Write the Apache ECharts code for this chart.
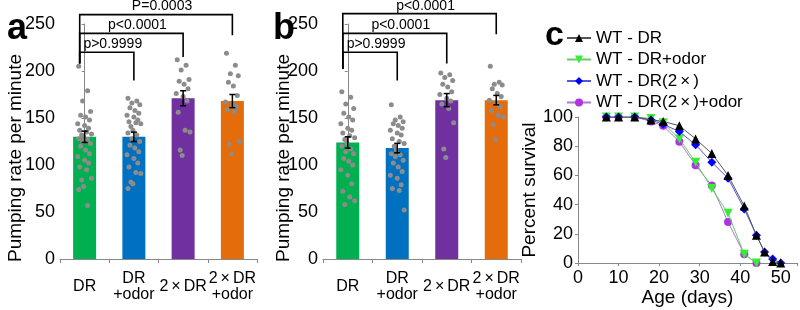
<!DOCTYPE html>
<html>
<head>
<meta charset="utf-8">
<script src="https://cdn.jsdelivr.net/npm/echarts@6/dist/echarts.min.js"></script>
<style>
html, body { margin: 0; padding: 0; background: #fff; }
#main { width: 800px; height: 310px; }
</style>
</head>
<body>
<div id="main"></div>
<script>
var categories = ['DR', 'DR\n+odor', '2×DR', '2×DR\n+odor'];
var barColors = ['#00b050', '#0070c0', '#7030a0', '#e46c0a'];
var yTicksBar = [0, 50, 100, 150, 200, 250];

// panel a
var meanA = [130, 130, 171, 168];
var semA = [6, 5, 8, 7];
var a_DR = [205, 179, 168, 157, 153, 151, 148, 144, 142, 139, 137, 135, 133, 132, 130, 128, 127, 125, 123, 120, 116, 112, 109, 105, 102, 98, 95, 86, 84, 77, 74, 57];
var a_DRodor = [171, 168, 166, 164, 161, 158, 155, 153, 151, 148, 146, 145, 144, 141, 137, 134, 132, 128, 125, 121, 118, 114, 111, 107, 102, 98, 92, 91, 82, 80, 75];
var a_2DR = [212, 206, 201, 191, 189, 186, 181, 176, 173, 168, 156, 137, 135, 116, 110];
var a_2DRodor = [219, 206, 197, 195, 188, 184, 174, 167, 165, 162, 159, 157, 125, 122, 112];
var pLabelsA = ['p>0.9999', 'p<0.0001', 'P=0.0003'];
var pTargetsA = [1, 2, 3];
var pLevelsA = [220, 240, 260];
var pEndsA = [190, 215, 238];
var pStartA = 208;

// panel b
var meanB = [124, 118, 169, 169];
var semB = [6, 5, 7, 5];
var b_DR = [178, 172, 165, 160, 155, 151, 148, 144, 139, 137, 134, 131, 129, 127, 123, 120, 117, 114, 112, 107, 104, 100, 95, 89, 80, 72, 66, 62, 58];
var b_DRodor = [164, 151, 148, 146, 144, 142, 139, 137, 134, 132, 128, 125, 123, 120, 116, 112, 111, 109, 105, 102, 98, 93, 89, 86, 79, 75, 73, 52];
var b_2DR = [198, 196, 193, 190, 186, 183, 178, 175, 171, 168, 165, 160, 145, 117, 108];
var b_2DRodor = [205, 188, 186, 185, 181, 176, 173, 169, 166, 162, 158, 153, 151, 143, 127];
var pLabelsB = ['p>0.9999', 'p<0.0001', 'p<0.0001'];
var pTargetsB = [1, 2, 3];
var pLevelsB = [220, 240, 261];
var pEndsB = [190, 208, 239];
var pStartB = 202;

// panel c
var ageDays = [7, 10, 14, 18, 21, 25, 29, 33, 37, 41, 44, 46, 48, 50];
var survDR = [100, 100, 100, 98, 97, 94, 85, 75, 60, 39, 19, 7.5, 1, 0];
var survDRodor = [100, 100, 100, 99, 96, 85, 69, 51, 34, 6, 0];
var survDR2x = [100, 100, 100, 98, 95, 90, 81, 69, 58, 37, 19, 7.5, 2.7, 0];
var survDR2xOdor = [100, 100, 100, 97, 94, 83, 67, 53, 28, 6, 0];

var FONT = '"Liberation Sans", Arial, sans-serif';
var jitter = [-0.12, 0.06, -0.04, 0.12, -0.08, 0.02, 0.1, -0.14, 0.0, 0.08, -0.1, 0.04, 0.14, -0.06, -0.02];
var legOff = -0.1;

function dotData(groups) {
    var out = [];
    groups.forEach(function (vals, g) {
        vals.forEach(function (v, i) {
            out.push([g + jitter[i % jitter.length], v]);
        });
    });
    return out;
}

function errData(mean, sem) {
    return mean.map(function (m, i) { return [i, m, sem[i]]; });
}

function renderErr(params, api) {
    var x = api.value(0), m = api.value(1), e = api.value(2);
    var top = api.coord([x, m + e]);
    var bot = api.coord([x, m - e]);
    var st = { stroke: '#000', lineWidth: 1.5 };
    var hw = 3;
    return {
        type: 'group',
        children: [
            { type: 'line', shape: { x1: top[0], y1: top[1], x2: bot[0], y2: bot[1] }, style: st },
            { type: 'line', shape: { x1: top[0] - hw, y1: top[1], x2: top[0] + hw, y2: top[1] }, style: st },
            { type: 'line', shape: { x1: bot[0] - hw, y1: bot[1], x2: bot[0] + hw, y2: bot[1] }, style: st }
        ]
    };
}

function bracketData(targets, levels, ends, start) {
    return targets.map(function (t, i) { return [t, levels[i], ends[i], start, i]; });
}

function makeBracketRender(labels) {
    return function (params, api) {
        var t = api.value(0), lv = api.value(1), en = api.value(2), st = api.value(3), idx = api.value(4);
        var p0 = api.coord([legOff, st]);
        var p1 = api.coord([legOff, lv]);
        var p2 = api.coord([t, lv]);
        var p3 = api.coord([t, en]);
        return {
            type: 'group',
            children: [
                { type: 'polyline', shape: { points: [p0, p1, p2, p3] }, style: { stroke: '#000', lineWidth: 1.6, fill: null } },
                { type: 'text', x: (p1[0] + p2[0]) / 2 + 6, y: p1[1] - 1,
                  style: { text: labels[idx], font: '14px ' + FONT, fill: '#000', align: 'center', verticalAlign: 'bottom' } }
            ]
        };
    };
}

function catAxis(gi) {
    return {
        type: 'category', gridIndex: gi, data: categories,
        axisLine: { lineStyle: { color: '#888', width: 1 } },
        axisTick: { show: true, length: 4, lineStyle: { color: '#888' } },
        axisLabel: {
            interval: 0, color: '#000', fontSize: 16, fontFamily: FONT, lineHeight: 16,
            margin: 28, verticalAlign: 'middle',
            formatter: function (v) { return v.replace(/×/g, '{x|×}'); },
            rich: { x: { fontSize: 16, fontFamily: FONT, padding: [0, 3, 0, 3], lineHeight: 16 } }
        }
    };
}

function hiddenX(gi) {
    return { type: 'value', gridIndex: gi, min: -0.5, max: 3.5, show: false };
}

function barY(gi) {
    return {
        type: 'value', gridIndex: gi, min: yTicksBar[0], max: yTicksBar[yTicksBar.length - 1], interval: 50,
        axisLine: { show: true, lineStyle: { color: '#888', width: 1 } },
        axisTick: { show: true, length: 3, lineStyle: { color: '#888' } },
        axisLabel: { color: '#000', fontSize: 18, fontFamily: FONT, margin: 5 },
        splitLine: { show: false }
    };
}

function barSeries(xi, yi, mean) {
    return {
        type: 'bar', xAxisIndex: xi, yAxisIndex: yi, barWidth: 23, z: 2,
        data: mean.map(function (m, i) { return { value: m, itemStyle: { color: barColors[i] } }; })
    };
}

function dotSeries(xi, yi, groups) {
    return {
        type: 'scatter', xAxisIndex: xi, yAxisIndex: yi, symbolSize: 5, z: 3,
        itemStyle: { color: '#8c8c8c', opacity: 1 },
        data: dotData(groups)
    };
}

function survData(vals) {
    return vals.map(function (v, i) { return [ageDays[i], v]; });
}

function sideTitle(x, y, text) {
    return {
        type: 'text', x: x, y: y, rotation: Math.PI / 2,
        style: { text: text, font: '19px ' + FONT, fill: '#000', align: 'center', verticalAlign: 'middle' }
    };
}

var chart = echarts.init(document.getElementById('main'), null, { renderer: 'canvas' });

var option = {
    animation: false,
    backgroundColor: '#fff',
    textStyle: { fontFamily: FONT },
    title: [
        { text: 'a', left: 2, top: 6, textStyle: { fontSize: 36, fontWeight: 'bold', fontFamily: FONT, color: '#000' } },
        { text: 'b', left: 268, top: 6, textStyle: { fontSize: 36, fontWeight: 'bold', fontFamily: FONT, color: '#000' } },
        { text: 'c', left: 540, top: 14, textStyle: { fontSize: 34, fontWeight: 'bold', fontFamily: FONT, color: '#000' } }
    ],
    graphic: [
        sideTitle(16, 158, 'Pumping rate per minute'),
        sideTitle(284, 158, 'Pumping rate per minute')
    ],
    legend: {
        orient: 'vertical', left: 561, top: 24, itemWidth: 24, itemHeight: 10, itemGap: 3.5,
        data: ['WT - DR', 'WT - DR+odor', 'WT - DR(2×)', 'WT - DR(2×)+odor'],
        formatter: function (n) { return n.replace(/×/g, '{x|×}'); },
        textStyle: {
            fontSize: 17, fontFamily: FONT, color: '#000', lineHeight: 18,
            rich: { x: { fontSize: 17, fontFamily: FONT, padding: [0, 3, 0, 3], lineHeight: 18 } }
        }
    },
    grid: [
        { left: 60, top: 24, width: 197, height: 235 },
        { left: 323, top: 24, width: 198, height: 235 },
        { left: 578, top: 117, width: 222, height: 146 }
    ],
    xAxis: [
        catAxis(0), hiddenX(0), catAxis(1), hiddenX(1),
        {
            type: 'value', gridIndex: 2, min: 0, max: 54, interval: 10,
            name: 'Age (days)', nameLocation: 'middle', nameGap: 24,
            nameTextStyle: { fontSize: 19, fontFamily: FONT, color: '#000' },
            axisLine: { lineStyle: { color: '#888', width: 1 } },
            axisTick: { show: true, length: 3, lineStyle: { color: '#888' } },
            axisLabel: { color: '#000', fontSize: 18, fontFamily: FONT, margin: 6,
                formatter: function (v) { return v % 10 === 0 ? v : ''; } },
            splitLine: { show: false }
        }
    ],
    yAxis: [
        barY(0), barY(1),
        {
            type: 'value', gridIndex: 2, min: 0, max: 100, interval: 20,
            name: 'Percent survival', nameLocation: 'middle', nameGap: 31,
            nameTextStyle: { fontSize: 19, fontFamily: FONT, color: '#000' },
            axisLine: { show: true, lineStyle: { color: '#888', width: 1 } },
            axisTick: { show: true, length: 3, lineStyle: { color: '#888' } },
            axisLabel: { color: '#000', fontSize: 18, fontFamily: FONT, margin: 5 },
            splitLine: { show: false }
        }
    ],
    series: [
        barSeries(0, 0, meanA),
        dotSeries(1, 0, [a_DR, a_DRodor, a_2DR, a_2DRodor]),
        { type: 'custom', xAxisIndex: 0, yAxisIndex: 0, z: 4, renderItem: renderErr, data: errData(meanA, semA) },
        { type: 'custom', xAxisIndex: 1, yAxisIndex: 0, z: 4, clip: false, renderItem: makeBracketRender(pLabelsA),
          data: bracketData(pTargetsA, pLevelsA, pEndsA, pStartA) },

        barSeries(2, 1, meanB),
        dotSeries(3, 1, [b_DR, b_DRodor, b_2DR, b_2DRodor]),
        { type: 'custom', xAxisIndex: 2, yAxisIndex: 1, z: 4, renderItem: renderErr, data: errData(meanB, semB) },
        { type: 'custom', xAxisIndex: 3, yAxisIndex: 1, z: 4, clip: false, renderItem: makeBracketRender(pLabelsB),
          data: bracketData(pTargetsB, pLevelsB, pEndsB, pStartB) },

        { name: 'WT - DR', type: 'line', xAxisIndex: 4, yAxisIndex: 2, z: 8,
          symbol: 'triangle', symbolSize: 9,
          itemStyle: { color: '#000' }, lineStyle: { color: '#555', width: 1 },
          data: survData(survDR) },
        { name: 'WT - DR+odor', type: 'line', xAxisIndex: 4, yAxisIndex: 2, z: 6,
          symbol: 'triangle', symbolRotate: 180, symbolSize: 9,
          itemStyle: { color: '#33ee33' }, lineStyle: { color: '#66cc66', width: 1 },
          data: survData(survDRodor) },
        { name: 'WT - DR(2×)', type: 'line', xAxisIndex: 4, yAxisIndex: 2, z: 7,
          symbol: 'diamond', symbolSize: 9,
          itemStyle: { color: '#0000ff' }, lineStyle: { color: '#5555dd', width: 1 },
          data: survData(survDR2x) },
        { name: 'WT - DR(2×)+odor', type: 'line', xAxisIndex: 4, yAxisIndex: 2, z: 5,
          symbol: 'circle', symbolSize: 8,
          itemStyle: { color: '#b033e0' }, lineStyle: { color: '#aa77cc', width: 1 },
          data: survData(survDR2xOdor) }
    ]
};

chart.setOption(option);
</script>
</body>
</html>
